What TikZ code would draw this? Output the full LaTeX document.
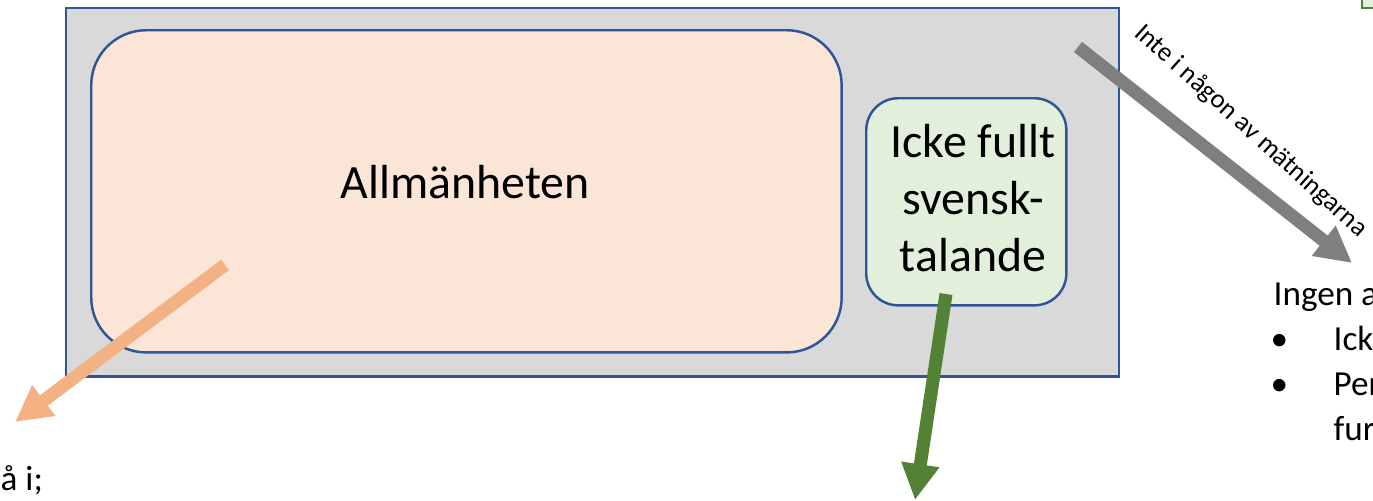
\documentclass[tikz,border=0pt]{standalone}
\usepackage{fontspec}
\setmainfont{Carlito}
\usetikzlibrary{arrows.meta}
\definecolor{frameblue}{HTML}{2F5597}
\definecolor{panelgray}{HTML}{D9D9D9}
\definecolor{peach}{HTML}{FBE5D6}
\definecolor{mint}{HTML}{E2EFDA}
\definecolor{arroworange}{HTML}{F4B183}
\definecolor{arrowgreen}{HTML}{548235}
\definecolor{arrowgray}{HTML}{7F7F7F}
\tikzset{
  group/.style={draw=frameblue, line width=0.7pt},
  bigarrow/.style={line width=0.13cm, -{Triangle[width=0.36cm,length=0.36cm]}},
  boxtext/.style={font=\fontsize{13.6pt}{16.2pt}\selectfont, align=center, inner sep=0pt},
  sidetext/.style={font=\fontsize{10pt}{12.8pt}\selectfont, inner sep=0pt, anchor=base west}
}
\begin{document}
\begin{tikzpicture}[x=0.01cm, y=-0.01cm]
\useasboundingbox (0,0) rectangle (1373,500);
\clip (0,0) rectangle (1373,500);

% outer panel and the two groups inside it
\node[group, fill=panelgray, minimum width=10.52cm, minimum height=3.68cm, anchor=north west, inner sep=0pt] (panel) at (65,7) {};
\node[group, fill=peach, rounded corners=0.55cm, minimum width=7.5cm, minimum height=3.22cm, anchor=north west, inner sep=0pt] (public) at (90,29) {};
\node[boxtext] (publictext) at (465,182) {Allmänheten};
\node[group, fill=mint, rounded corners=0.32cm, minimum width=2.0cm, minimum height=2.07cm, anchor=north west, inner sep=0pt] (nonnative) at (865,97) {};
\node[boxtext] (nonnativetext) at (973,198) {Icke fullt\\svensk-\\talande};

% small box at the top right edge
\draw[draw=arrowgreen, fill=mint, line width=0.8pt] (1362,-20) rectangle (1400,8);

% arrow end points
\coordinate (orangeA) at (225,265);
\coordinate (orangeB) at (15,422);
\coordinate (greenA) at (946,294);
\coordinate (greenB) at (915,500);
\coordinate (grayA) at (1078,47);
\coordinate (grayB) at (1352,263);

\draw[bigarrow, draw=arroworange, fill=arroworange] (orangeA) -- (orangeB);
\draw[bigarrow, draw=arrowgreen, fill=arrowgreen] (greenA) -- (greenB);
\draw[bigarrow, draw=arrowgray, fill=arrowgray] (grayA) -- (grayB);

\node[font=\fontsize{7.6pt}{8.2pt}\selectfont, rotate=-42, inner sep=0pt] (graylabel) at (1251,131) {Inte i någon av mätningarna};

% texts at the edges
\node[sidetext] (none) at (1273,305) {Ingen a};
\node[sidetext] (b1) at (1270,350) {•};
\node[sidetext] (l1) at (1333,350) {Ick};
\node[sidetext] (b2) at (1270,395) {•};
\node[sidetext] (l2) at (1333,395) {Per};
\node[sidetext] (l3) at (1333,440) {fur};
\node[sidetext] (left) at (0,490) {å i;};
\end{tikzpicture}
\end{document}
